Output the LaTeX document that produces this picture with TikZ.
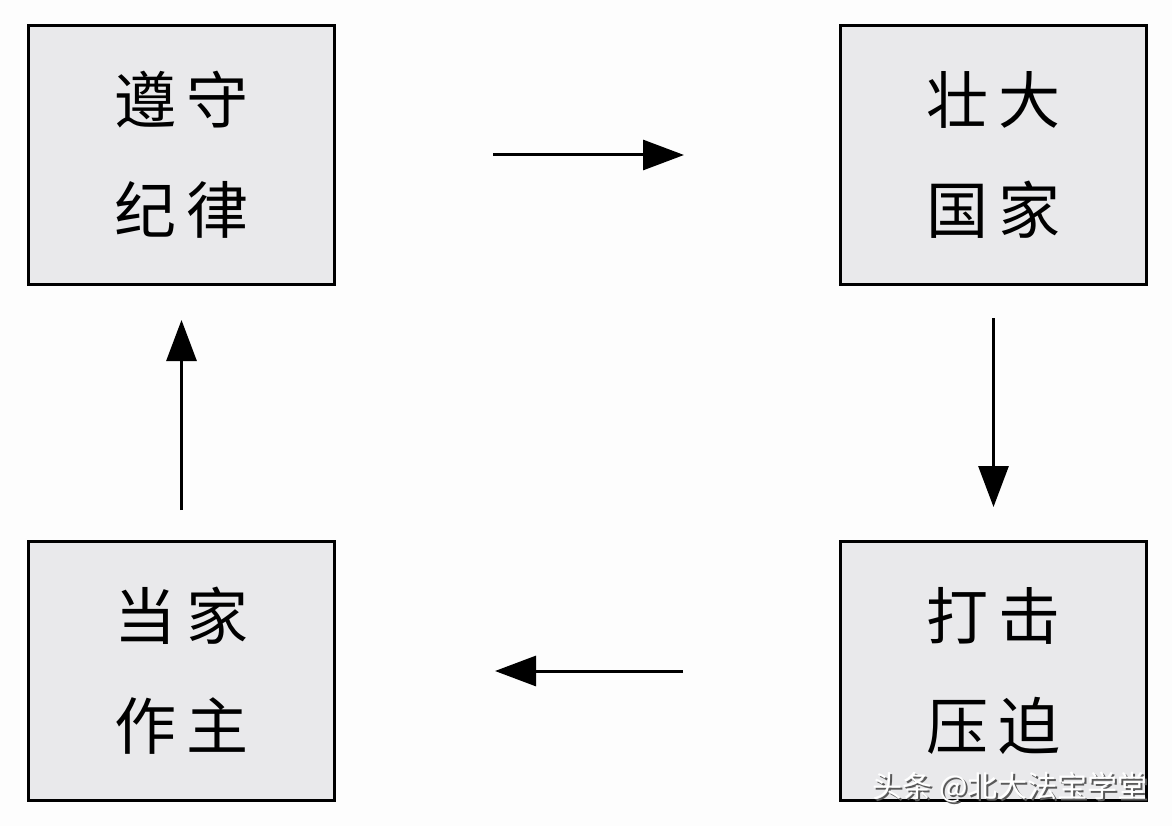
\documentclass[tikz,border=0pt]{standalone}
\usepackage{fontspec}
\newfontfamily\cjk{Noto Sans CJK SC}
\usetikzlibrary{arrows.meta}
\definecolor{boxgray}{HTML}{E9E9EB}
\definecolor{bggray}{HTML}{FDFDFD}
\tikzset{
  stagebox/.style={draw=black, line width=3pt, fill=boxgray, minimum width=306pt, minimum height=259pt, inner sep=0pt, align=center, font=\cjk\fontsize{62}{110}\selectfont},
  flowarrow/.style={line width=3pt, -{Triangle[length=41pt,width=30pt]}},
  wmtext/.style={anchor=east, inner sep=0pt, font=\cjk\fontsize{30}{32}\selectfont},
}
\begin{document}
\begin{tikzpicture}[x=1pt,y=-1pt]
\fill[bggray] (0,0) rectangle (1172,826);
\useasboundingbox (0,0) rectangle (1172,826);
\node[stagebox] (tl) at (181.5,155) {遵\hspace{10pt}守\\纪\hspace{10pt}律};
\node[stagebox] (tr) at (993.5,155) {壮\hspace{10pt}大\\国\hspace{10pt}家};
\node[stagebox] (br) at (993.5,671) {打\hspace{10pt}击\\压\hspace{10pt}迫};
\node[stagebox] (bl) at (181.5,671) {当\hspace{10pt}家\\作\hspace{10pt}主};
\draw[flowarrow, shorten <=157pt, shorten >=155pt] (tl.east) -- (tr.west);
\draw[flowarrow, shorten <=32pt, shorten >=33pt] (tr.south) -- (br.north);
\draw[flowarrow, shorten <=156pt, shorten >=159pt] (br.west) -- (bl.east);
\draw[flowarrow, shorten <=30pt, shorten >=34pt] (bl.north) -- (tl.south);
\node[wmtext, text=black!65] (wms) at (1150,789) {头条 @北大法宝学堂};
\node[wmtext, text=white] (wm) at (1148,787) {头条 @北大法宝学堂};
\end{tikzpicture}
\end{document}
